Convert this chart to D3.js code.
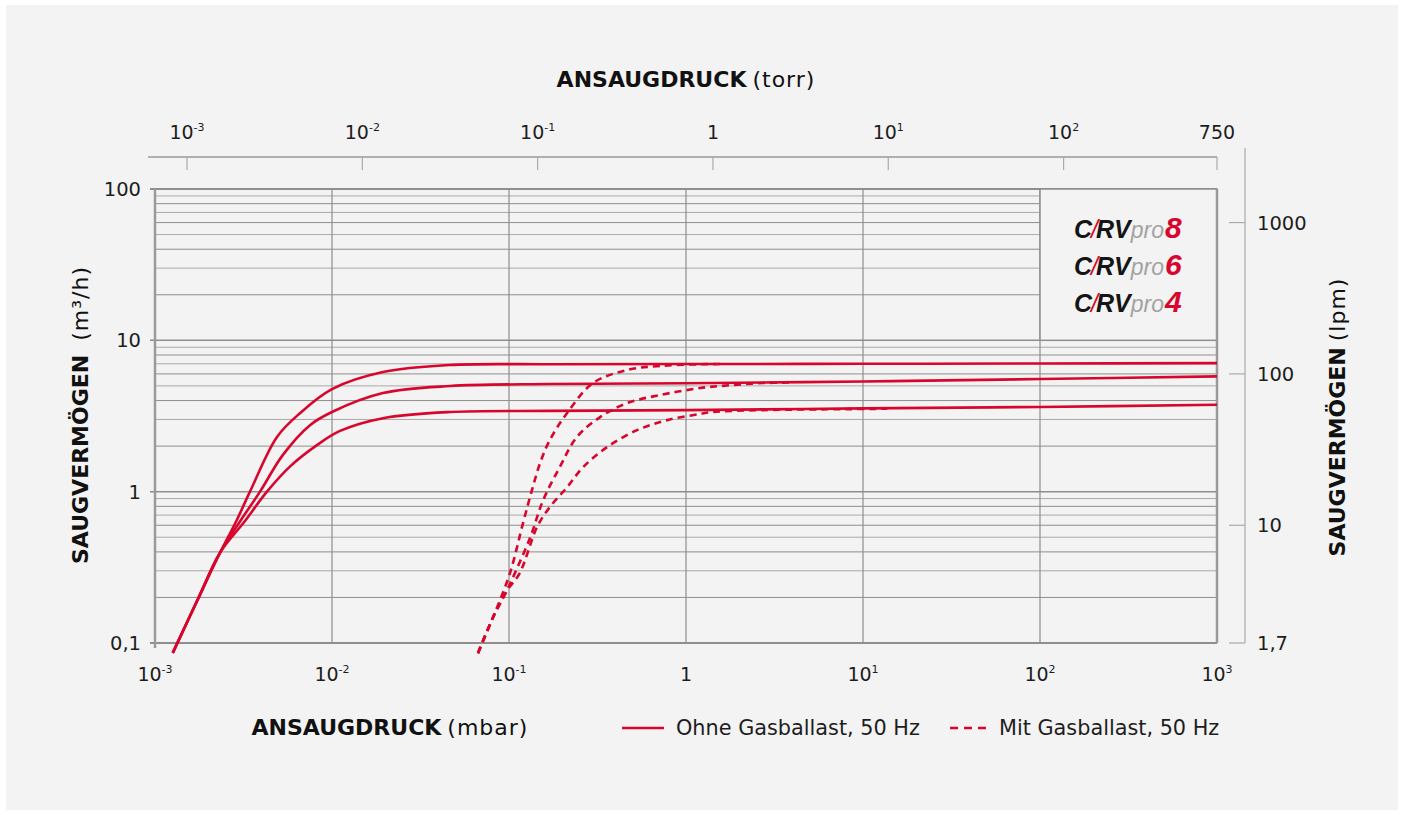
<!DOCTYPE html>
<html>
<head>
<meta charset="utf-8">
<script src="https://cdn.jsdelivr.net/npm/d3@7"></script>
<style>
  html, body { margin: 0; padding: 0; background: #fff; }
  svg { display: block; font-family: "DejaVu Sans", "Open Sans", sans-serif; }
</style>
</head>
<body>
<div id="chart"></div>
<script>
// Saugvermögen-Kurven CRVpro 4 / 6 / 8  [Ansaugdruck mbar, Saugvermögen m3/h]
const ohne8 = [[1.26e-3, 0.086], [1.73e-3, 0.19], [2.33e-3, 0.395], [2.9e-3, 0.65], [3.44e-3, 1.0], [4.89e-3, 2.3], [6.59e-3, 3.3], [1.0e-2, 4.76], [1.94e-2, 6.17], [4.64e-2, 6.87], [0.17, 6.95], [1, 6.97], [10, 7.0], [100, 7.03], [1000, 7.07]];
const ohne6 = [[1.26e-3, 0.086], [1.73e-3, 0.19], [2.33e-3, 0.395], [3.06e-3, 0.65], [3.92e-3, 1.0], [5.28e-3, 1.75], [7.51e-3, 2.75], [1.0e-2, 3.36], [1.94e-2, 4.48], [4.64e-2, 4.99], [0.17, 5.14], [1, 5.2], [10, 5.35], [100, 5.55], [1000, 5.78]];
const ohne4 = [[1.26e-3, 0.086], [1.73e-3, 0.19], [2.33e-3, 0.395], [3.19e-3, 0.63], [4.29e-3, 1.0], [5.8e-3, 1.47], [8.22e-3, 2.03], [1.11e-2, 2.52], [1.94e-2, 3.06], [4.64e-2, 3.36], [0.17, 3.42], [1, 3.46], [10, 3.55], [100, 3.63], [1000, 3.75]];

const mit8 = [[0.0668, 0.0857], [0.0813, 0.148], [0.1013, 0.29], [0.12, 0.62], [0.135, 1.03], [0.15, 1.55], [0.17, 2.19], [0.213, 3.31], [0.299, 5.23], [0.465, 6.37], [0.713, 6.77], [1.2, 6.95], [1.6, 6.97]];
const mit6 = [[0.0668, 0.0857], [0.0813, 0.148], [0.095, 0.21], [0.108, 0.29], [0.132, 0.501], [0.156, 0.879], [0.194, 1.46], [0.242, 2.3], [0.327, 3.11], [0.465, 3.85], [0.713, 4.35], [1.2, 4.84], [1.56, 4.99], [2.72, 5.22], [4.0, 5.26]];
const mit4 = [[0.0668, 0.0857], [0.0813, 0.148], [0.097, 0.22], [0.115, 0.29], [0.144, 0.584], [0.17, 0.791], [0.213, 1.07], [0.262, 1.45], [0.358, 1.97], [0.529, 2.55], [0.781, 2.97], [1.2, 3.26], [1.42, 3.36], [2.72, 3.46], [8.13, 3.51], [13.7, 3.53]];

// Achsen
const mbarTicks = [["10", "-3"], ["10", "-2"], ["10", "-1"], ["1", ""], ["10", "1"], ["10", "2"], ["10", "3"]];
const mbarValues = [1e-3, 1e-2, 1e-1, 1, 10, 100, 1000];
const torrTicks = [["10", "-3"], ["10", "-2"], ["10", "-1"], ["1", ""], ["10", "1"], ["10", "2"], ["750", ""]];
const torrValues = [1e-3, 1e-2, 1e-1, 1, 10, 100, 750];
const m3hValues = [100, 10, 1, 0.1];
const m3hLabels = ["100", "10", "1", "0,1"];
const lpmValues = [1000, 100, 10, 1.7];
const lpmLabels = ["1000", "100", "10", "1,7"];
const modelle = ["8", "6", "4"];

const red = "#d8062c";
const gridDark = "#8e8e8e";
const gridLight = "#a9a9a9";
const textColor = "#1d1d1d";

const svg = d3.select("#chart").append("svg").attr("width", 1402).attr("height", 815);

svg.append("rect").attr("x", 6).attr("y", 5).attr("width", 1392).attr("height", 805).attr("fill", "#f3f3f3");

const x = d3.scaleLog().domain([1e-3, 1e3]).range([155, 1217]);
const y = d3.scaleLog().domain([0.1, 100]).range([643, 189]);
// torr-Skala liegt im Original leicht versetzt
const xTorr = d3.scaleLog().domain([1e-3, 750]).range([187, 1217]);
// lpm = m3/h * 1000/60
const yLpm = (v) => (v === 1.7 ? y(0.1) : y(v * 0.06));

const boxLeft = x(100);
const boxBottom = y(10);

// Nebengitter (horizontal)
const minor = [];
[0.1, 1, 10].forEach((dec) => {
  for (let k = 2; k <= 9; k++) minor.push(dec * k);
});
svg.append("g")
  .selectAll("line")
  .data(minor)
  .join("line")
  .attr("x1", x(1e-3))
  .attr("x2", (d) => (d > 10 ? boxLeft : x(1e3)))
  .attr("y1", (d) => y(d))
  .attr("y2", (d) => y(d))
  .attr("stroke", (d, i) => (i % 2 ? gridLight : gridDark))
  .attr("stroke-width", 1);

// Hauptgitter
svg.append("g")
  .selectAll("line")
  .data(m3hValues)
  .join("line")
  .attr("x1", x(1e-3) - 5)
  .attr("x2", x(1e3))
  .attr("y1", (d) => y(d))
  .attr("y2", (d) => y(d))
  .attr("stroke", gridDark)
  .attr("stroke-width", (d) => (d === 100 || d === 0.1 ? 2 : 1.5));

svg.append("g")
  .selectAll("line")
  .data(mbarValues.slice(1, 6))
  .join("line")
  .attr("x1", (d) => x(d))
  .attr("x2", (d) => x(d))
  .attr("y1", y(100))
  .attr("y2", y(0.1))
  .attr("stroke", gridDark)
  .attr("stroke-width", 1.2);

// Legendenkasten oben rechts
svg.append("rect")
  .attr("x", boxLeft)
  .attr("y", y(100))
  .attr("width", x(1e3) - boxLeft)
  .attr("height", boxBottom - y(100))
  .attr("fill", "#f3f3f3")
  .attr("stroke", gridDark)
  .attr("stroke-width", 1.5);

// Rahmen
svg.append("line").attr("x1", x(1e-3)).attr("x2", x(1e-3)).attr("y1", y(100)).attr("y2", y(0.1) + 5)
  .attr("stroke", "#9a9a9a").attr("stroke-width", 2.5);
svg.append("line").attr("x1", x(1e3)).attr("x2", x(1e3)).attr("y1", y(100)).attr("y2", y(0.1))
  .attr("stroke", "#9a9a9a").attr("stroke-width", 2.5);

// linke Beschriftung
svg.append("g")
  .selectAll("text")
  .data(m3hValues)
  .join("text")
  .attr("x", 141)
  .attr("y", (d) => y(d) + 7)
  .attr("text-anchor", "end")
  .attr("font-size", 19.5)
  .attr("fill", textColor)
  .text((d, i) => m3hLabels[i]);

function powLabel(sel, yPos) {
  sel.attr("y", yPos)
    .attr("text-anchor", "middle")
    .attr("font-size", 19)
    .attr("fill", textColor)
    .each(function (d) {
      const t = d3.select(this);
      t.append("tspan").text(d.lab[0]);
      if (d.lab[1]) {
        t.append("tspan").attr("font-size", 11).attr("dy", -8).text(d.lab[1]);
      }
    });
}

// untere Achse (mbar)
svg.append("g")
  .selectAll("text")
  .data(mbarValues.map((v, i) => ({ v, lab: mbarTicks[i] })))
  .join("text")
  .attr("x", (d) => x(d.v))
  .call(powLabel, 681);

// obere Achse (torr)
svg.append("line").attr("x1", 148).attr("x2", x(1e3)).attr("y1", 157).attr("y2", 157)
  .attr("stroke", "#999").attr("stroke-width", 1.5);
svg.append("g")
  .selectAll("line")
  .data(torrValues)
  .join("line")
  .attr("x1", (d) => xTorr(d))
  .attr("x2", (d) => xTorr(d))
  .attr("y1", 157)
  .attr("y2", 170)
  .attr("stroke", "#aaa")
  .attr("stroke-width", 1.2);
svg.append("g")
  .selectAll("text")
  .data(torrValues.map((v, i) => ({ v, lab: torrTicks[i] })))
  .join("text")
  .attr("x", (d) => xTorr(d.v))
  .call(powLabel, 139);

// rechte Achse (lpm)
svg.append("line").attr("x1", 1245).attr("x2", 1245).attr("y1", 148).attr("y2", y(0.1))
  .attr("stroke", "#aaa").attr("stroke-width", 1.2);
svg.append("g")
  .selectAll("line")
  .data(lpmValues)
  .join("line")
  .attr("x1", 1229)
  .attr("x2", 1245)
  .attr("y1", (d) => yLpm(d))
  .attr("y2", (d) => yLpm(d))
  .attr("stroke", "#aaa")
  .attr("stroke-width", 1.2);
svg.append("g")
  .selectAll("text")
  .data(lpmValues)
  .join("text")
  .attr("x", 1257)
  .attr("y", (d) => yLpm(d) + 7)
  .attr("font-size", 19.5)
  .attr("fill", textColor)
  .text((d, i) => lpmLabels[i]);

// Achsentitel
const title = (tx, ty, rot, bold, normal, gap) => {
  const t = svg.append("text")
    .attr("transform", `translate(${tx},${ty}) rotate(${rot})`)
    .attr("text-anchor", "middle")
    .attr("font-size", 22)
    .attr("fill", "#111");
  t.append("tspan").attr("font-weight", 700).text(bold);
  t.append("tspan").attr("dx", gap).attr("letter-spacing", 1).text(normal);
};
title(686, 87, 0, "ANSAUGDRUCK", "(torr)", 6);
title(390, 735, 0, "ANSAUGDRUCK", "(mbar)", 6);
title(88, 415, -90, "SAUGVERMÖGEN", "(m³/h)", 14);
title(1345, 417, -90, "SAUGVERMÖGEN", "(lpm)", 6);

// Kurven
const line = d3.line()
  .x((d) => x(d[0]))
  .y((d) => y(d[1]))
  .curve(d3.curveCatmullRom.alpha(0.5));

svg.append("g")
  .selectAll("path")
  .data([ohne8, ohne6, ohne4])
  .join("path")
  .attr("d", line)
  .attr("fill", "none")
  .attr("stroke", red)
  .attr("stroke-width", 2.6);

svg.append("g")
  .selectAll("path")
  .data([mit8, mit6, mit4])
  .join("path")
  .attr("d", line)
  .attr("fill", "none")
  .attr("stroke", red)
  .attr("stroke-width", 2.6)
  .attr("stroke-dasharray", "7,5");

// Modell-Logos
const logo = svg.append("g")
  .selectAll("text")
  .data(modelle)
  .join("text")
  .attr("x", 1074)
  .attr("y", (d, i) => 238 + i * 37)
  .attr("font-family", "'Liberation Sans', Arial, sans-serif")
  .attr("font-style", "italic");
logo.append("tspan").attr("font-weight", 700).attr("font-size", 25).attr("fill", "#151515").text("C");
logo.append("tspan").attr("font-weight", 400).attr("font-size", 25).attr("fill", red).attr("dx", -1).text("/");
logo.append("tspan").attr("font-weight", 700).attr("font-size", 25).attr("fill", "#151515").attr("dx", -2).text("RV");
logo.append("tspan").attr("font-weight", 400).attr("font-size", 23).attr("fill", "#a3a3a3").text("pro");
logo.append("tspan").attr("font-weight", 700).attr("font-size", 30).attr("fill", red).attr("dx", 1).text((d) => d);

// Legende unten
svg.append("line").attr("x1", 622).attr("x2", 664).attr("y1", 728).attr("y2", 728)
  .attr("stroke", red).attr("stroke-width", 2.5);
svg.append("text").attr("x", 676).attr("y", 735).attr("font-size", 20.8).attr("fill", textColor)
  .text("Ohne Gasballast, 50 Hz");
svg.append("line").attr("x1", 950).attr("x2", 992).attr("y1", 728).attr("y2", 728)
  .attr("stroke", red).attr("stroke-width", 2.5).attr("stroke-dasharray", "8,6");
svg.append("text").attr("x", 999).attr("y", 735).attr("font-size", 20.8).attr("fill", textColor)
  .text("Mit Gasballast, 50 Hz");
</script>
</body>
</html>
